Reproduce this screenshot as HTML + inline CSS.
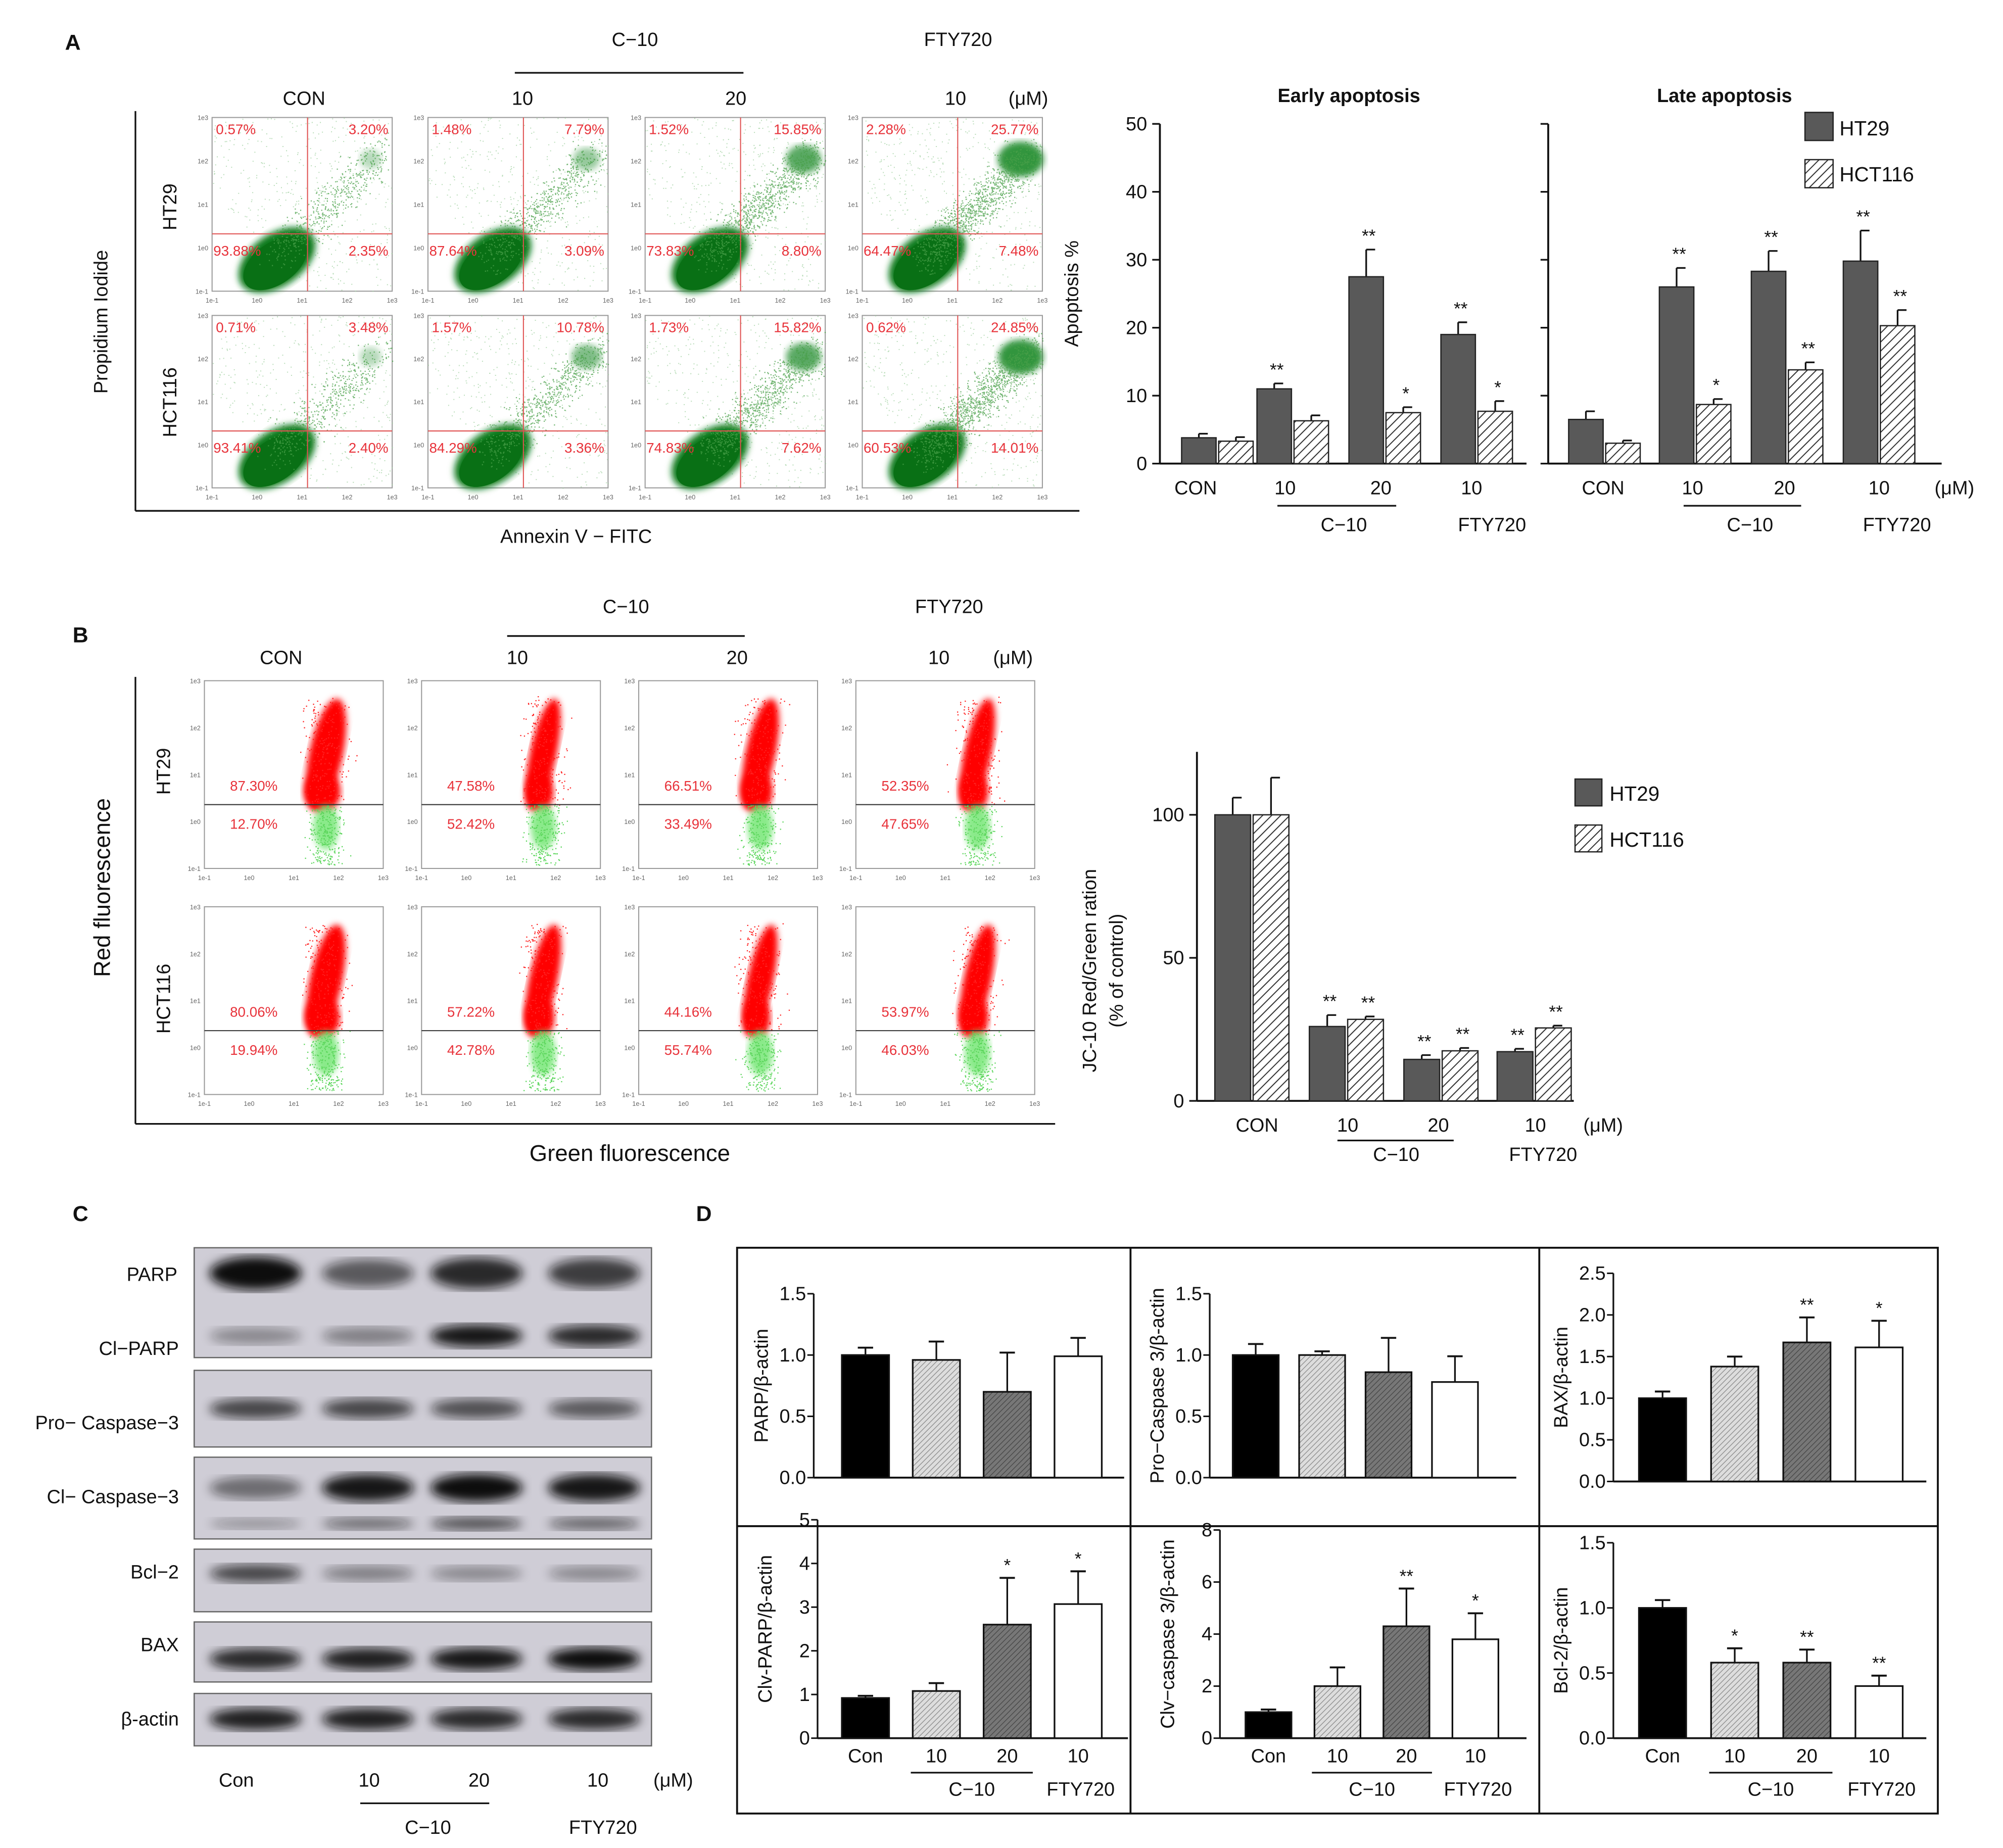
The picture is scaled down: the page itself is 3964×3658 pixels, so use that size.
<!DOCTYPE html>
<html><head><meta charset="utf-8"><style>
html,body{margin:0;padding:0;background:#fff}
svg{display:block}
text{font-family:"Liberation Sans",sans-serif}
</style></head><body>
<svg id="fig" xmlns="http://www.w3.org/2000/svg" width="3964" height="3658" viewBox="0 0 1568 1447">
<defs>
<pattern id="hatchA" patternUnits="userSpaceOnUse" width="5" height="5" patternTransform="rotate(45)"><rect width="5" height="5" fill="#fff"/><line x1="0" y1="0" x2="0" y2="5" stroke="#333" stroke-width="1.6"/></pattern>
<pattern id="hatchL" patternUnits="userSpaceOnUse" width="3" height="3" patternTransform="rotate(45)"><rect width="3" height="3" fill="#ddd"/><line x1="0" y1="0" x2="0" y2="3" stroke="#888" stroke-width="1"/></pattern>
<pattern id="hatchD" patternUnits="userSpaceOnUse" width="3" height="3" patternTransform="rotate(45)"><rect width="3" height="3" fill="#777"/><line x1="0" y1="0" x2="0" y2="3" stroke="#444" stroke-width="1"/></pattern>
<filter id="blur2"><feGaussianBlur stdDeviation="2.5"/></filter>
<filter id="blur4"><feGaussianBlur stdDeviation="4"/></filter>
</defs>
</svg>
<script>
// ---------- DATA ----------
const apopCats = ["CON","10","20","10"];
const earlyHT29 = [3.8, 11, 27.5, 19];
const earlyHT29Err = [0.6, 0.8, 4, 1.8];
const earlyHCT = [3.3, 6.3, 7.5, 7.7];
const earlyHCTErr = [0.6, 0.8, 0.8, 1.5];
const earlyStarsHT = ["", "**", "**", "**"];
const earlyStarsHCT = ["", "", "*", "*"];
const lateHT29 = [6.5, 26, 28.3, 29.8];
const lateHT29Err = [1.2, 2.8, 3, 4.5];
const lateHCT = [3, 8.7, 13.8, 20.3];
const lateHCTErr = [0.4, 0.8, 1.1, 2.3];
const lateStarsHT = ["", "**", "**", "**"];
const lateStarsHCT = ["", "*", "**", "**"];
const apopTicks = [0,10,20,30,40,50];

const jcHT29 = [100, 26, 14.5, 17.2];
const jcHT29Err = [6, 4, 1.5, 1];
const jcHCT = [100, 28.5, 17.5, 25.5];
const jcHCTErr = [13, 1, 1, 0.8];
const jcStarsHT = ["", "**", "**", "**"];
const jcStarsHCT = ["", "**", "**", "**"];
const jcTicks = [0,50,100];

const annexHT = [["0.57%","3.20%","93.88%","2.35%"],["1.48%","7.79%","87.64%","3.09%"],["1.52%","15.85%","73.83%","8.80%"],["2.28%","25.77%","64.47%","7.48%"]];
const annexHCT = [["0.71%","3.48%","93.41%","2.40%"],["1.57%","10.78%","84.29%","3.36%"],["1.73%","15.82%","74.83%","7.62%"],["0.62%","24.85%","60.53%","14.01%"]];
const jcFlowHT = [["87.30%","12.70%"],["47.58%","52.42%"],["66.51%","33.49%"],["52.35%","47.65%"]];
const jcFlowHCT = [["80.06%","19.94%"],["57.22%","42.78%"],["44.16%","55.74%"],["53.97%","46.03%"]];

const dParp = [1.0, 0.96, 0.7, 0.99];
const dParpErr = [0.06, 0.15, 0.32, 0.15];
const dPro = [1.0, 1.0, 0.86, 0.78];
const dProErr = [0.09, 0.03, 0.28, 0.21];
const dBax = [1.0, 1.38, 1.67, 1.61];
const dBaxErr = [0.08, 0.12, 0.3, 0.32];
const dBaxStars = ["", "", "**", "*"];
const dClvParp = [0.92, 1.08, 2.6, 3.07];
const dClvParpErr = [0.05, 0.18, 1.07, 0.75];
const dClvParpStars = ["", "", "*", "*"];
const dClvCasp = [1.0, 2.0, 4.3, 3.8];
const dClvCaspErr = [0.1, 0.72, 1.45, 1.0];
const dClvCaspStars = ["", "", "**", "*"];
const dBcl = [1.0, 0.58, 0.58, 0.4];
const dBclErr = [0.06, 0.11, 0.1, 0.08];
const dBclStars = ["", "*", "**", "**"];
const ticks15 = ["0.0","0.5","1.0","1.5"];
const ticks25 = ["0.0","0.5","1.0","1.5","2.0","2.5"];
const ticks5 = ["0","1","2","3","4","5"];
const ticks8 = ["0","2","4","6","8"];

// ---------- HELPERS ----------
const NS="http://www.w3.org/2000/svg";
const svg=document.getElementById('fig');
function mk(tag, attrs, name, parent){
  const e=document.createElementNS(NS,tag);
  for(const k in attrs) e.setAttribute(k, attrs[k]);
  
  
  (parent||svg).appendChild(e);
  return e;
}
function txt(x,y,s,size,name,opt){
  opt=opt||{};
  const a={x:x,y:y,'font-size':size,fill:opt.fill||'#111','text-anchor':opt.anchor||'middle'};
  if(opt.bold) a['font-weight']='bold';
  if(opt.rot!==undefined) a.transform='rotate('+opt.rot+' '+x+' '+y+')';
  const t=mk('text',a,name,opt.parent);
  t.textContent=s;
  return t;
}
function line(x1,y1,x2,y2,name,w,col,parent){
  return mk('line',{x1:x1,y1:y1,x2:x2,y2:y2,stroke:col||'#111','stroke-width':w||1.3},name,parent);
}
let seed=12345;
function rnd(){seed=(seed*1103515245+12345)%2147483648;return seed/2147483648;}
function gauss(){return (rnd()+rnd()+rnd()-1.5)/1.5;}

// ---------- PANEL A ----------
txt(57,39,"A",17,"panel-a-label",{bold:true});
txt(497,36,"C−10",15,"a-c10-header");
line(403,57,582,57,"a-c10-bracket");
txt(750,36,"FTY720",15,"a-fty-header");
txt(238,82,"CON",15,"a-con-header");
txt(409,82,"10",15,"a-10-header");
txt(576,82,"20",15,"a-20-header");
txt(748,82,"10",15,"a-fty10-header");
txt(805,82,"(μM)",15,"a-unit-header");
line(106,87,106,400,"a-frame-left");
line(106,400,845,400,"a-frame-bottom");
txt(84,252,"Propidium Iodide",15,"a-y-title",{rot:-90});
txt(138,162,"HT29",15,"a-row-ht29",{rot:-90});
txt(138,315,"HCT116",15,"a-row-hct116",{rot:-90});
txt(451,425,"Annexin V − FITC",15,"a-x-title");

const flowCols=[166,335,505,675];
function flowAxes(x0,y0,w,h,g){
  mk('rect',{x:x0,y:y0,width:w,height:h,fill:'#fff',stroke:'#999','stroke-width':0.8},'flow-plot-frame',g);
  const lbl=["1e-1","1e0","1e1","1e2","1e3"];
  for(let i=0;i<5;i++){
    txt(x0+i*w/4,y0+h+9,lbl[i],5,'flow-x-tick',{fill:'#666',parent:g});
    txt(x0-3,y0+h-i*h/4+2,lbl[i],5,'flow-y-tick',{fill:'#666',anchor:'end',parent:g});
  }
}
function annexPlot(x0,y0,w,h,vals,k,name){
  const g=mk('g',{},name);
  flowAxes(x0,y0,w,h,g);
  const qx=x0+w*0.53, qy=y0+h*0.67;
  const apop=parseFloat(vals[1])+parseFloat(vals[3]);
  let d0='';
  for(let i=0;i<500;i++){
    const px=x0+rnd()*w, py=y0+rnd()*h;
    if(px-x0+(y0+h-py)*w/h < w*0.55) continue;
    d0+='M'+px.toFixed(1)+' '+py.toFixed(1)+'h0.8v0.8h-0.8z';
  }
  mk('path',{d:d0,fill:'#9ccf9c',opacity:0.7},'background-events',g);
  mk('ellipse',{cx:x0+w*0.36,cy:y0+h*0.82,rx:w*0.24,ry:h*0.15,fill:'#0b7a1a',filter:'url(#blur2)',transform:'rotate(-35 '+(x0+w*0.36)+' '+(y0+h*0.82)+')'},'live-cell-cluster',g);
  mk('ellipse',{cx:x0+w*0.35,cy:y0+h*0.84,rx:w*0.2,ry:h*0.12,fill:'#097015',transform:'rotate(-35 '+(x0+w*0.35)+' '+(y0+h*0.84)+')'},'live-cell-core',g);
  const uc=parseFloat(vals[1]);
  mk('ellipse',{cx:x0+w*0.88,cy:y0+h*0.24,rx:w*(0.05+uc*0.003),ry:h*(0.05+uc*0.002),fill:'#1a8a2a',opacity:Math.min(0.9,0.2+uc/30),filter:'url(#blur2)'},'late-apoptotic-cluster',g);
  let d='';
  const n=Math.round(400+apop*25);
  for(let i=0;i<n;i++){
    const t=rnd();
    let px=x0+w*(0.35+t*0.6)+gauss()*w*0.16;
    let py=y0+h*(0.8-t*0.6)+gauss()*h*0.16;
    if(px<x0||px>x0+w||py<y0||py>y0+h) continue;
    d+='M'+px.toFixed(1)+' '+py.toFixed(1)+'h0.9v0.9h-0.9z';
  }
  mk('path',{d:d,fill:'#4aa04a',opacity:0.75},'scatter-events',g);
  line(qx,y0,qx,y0+h,'quadrant-vertical',0.8,'#e05050',g);
  line(x0,qy,x0+w,qy,'quadrant-horizontal',0.8,'#e05050',g);
  const red='#e8323a';
  txt(x0+3,y0+13,vals[0],11,'pct-upper-left',{fill:red,anchor:'start',parent:g});
  txt(x0+w-3,y0+13,vals[1],11,'pct-upper-right',{fill:red,anchor:'end',parent:g});
  txt(x0+1,qy+17,vals[2],11,'pct-lower-left',{fill:red,anchor:'start',parent:g});
  txt(x0+w-3,qy+17,vals[3],11,'pct-lower-right',{fill:red,anchor:'end',parent:g});
}
for(let i=0;i<4;i++){
  annexPlot(flowCols[i],92,141,136,annexHT[i],i,'annexin-plot-ht29-'+i);
  annexPlot(flowCols[i],247,141,135,annexHCT[i],i,'annexin-plot-hct116-'+i);
}

function groupBars(cfg){
  const g=mk('g',{},cfg.name);
  const y=v=>cfg.yBot-(v/cfg.max)*(cfg.yBot-cfg.yTop);
  line(cfg.ax,cfg.yTop,cfg.ax,cfg.yBot,cfg.name+'-y-axis',1.5,'#111',g);
  line(cfg.ax,cfg.yBot,cfg.axEnd,cfg.yBot,cfg.name+'-x-axis',1.5,'#111',g);
  cfg.ticks.forEach(t=>{
    line(cfg.ax-6,y(t),cfg.ax,y(t),'y-tick',1.3,'#111',g);
    if(cfg.tickLabels) txt(cfg.ax-10,y(t)+5,String(t),15,'y-tick-label',{anchor:'end',parent:g});
  });
  for(let i=0;i<cfg.centers.length;i++){
    const c=cfg.centers[i];
    [[cfg.a,cfg.aErr,cfg.aStars,'#595959',c-cfg.bw-1],[cfg.b,cfg.bErr,cfg.bStars,'url(#hatchA)',c+1]].forEach((s,j)=>{
      const v=s[0][i], e=s[1][i], x=s[4];
      line(x+cfg.bw/2,y(v),x+cfg.bw/2,y(v+e),'error-bar',1.3,'#111',g);
      line(x+cfg.bw/2,y(v+e),x+cfg.bw/2+7,y(v+e),'error-cap',1.3,'#111',g);
      mk('rect',{x:x,y:y(v),width:cfg.bw,height:cfg.yBot-y(v),fill:s[3],stroke:'#222','stroke-width':1},j?'bar-hct116':'bar-ht29',g);
      if(s[2][i]) txt(x+cfg.bw/2+2,y(v+e)-6,s[2][i],14,'significance-stars',{parent:g});
    });
  }
}
groupBars({name:'early-apoptosis-chart',ax:908,axEnd:1195,yTop:97,yBot:363,max:50,ticks:apopTicks,tickLabels:true,centers:[953,1012,1084,1156],bw:27,a:earlyHT29,aErr:earlyHT29Err,aStars:earlyStarsHT,b:earlyHCT,bErr:earlyHCTErr,bStars:earlyStarsHCT});
groupBars({name:'late-apoptosis-chart',ax:1212,axEnd:1520,yTop:97,yBot:363,max:50,ticks:apopTicks,tickLabels:false,centers:[1256,1327,1399,1471],bw:27,a:lateHT29,aErr:lateHT29Err,aStars:lateStarsHT,b:lateHCT,bErr:lateHCTErr,bStars:lateStarsHCT});
txt(844,230,"Apoptosis %",15,"apoptosis-y-title",{rot:-90});
txt(1056,80,"Early apoptosis",15,"early-apoptosis-title",{bold:true});
txt(1350,80,"Late apoptosis",15,"late-apoptosis-title",{bold:true});
mk('rect',{x:1413,y:88,width:22,height:22,fill:'#595959',stroke:'#222'},'legend-ht29-swatch');
txt(1440,106,"HT29",16,"legend-ht29-label",{anchor:'start'});
mk('rect',{x:1413,y:125,width:22,height:22,fill:'url(#hatchA)',stroke:'#222'},'legend-hct116-swatch');
txt(1440,142,"HCT116",16,"legend-hct116-label",{anchor:'start'});
[[936,"CON"],[1006,"10"],[1081,"20"],[1152,"10"],[1255,"CON"],[1325,"10"],[1397,"20"],[1471,"10"],[1530,"(μM)"]].forEach(p=>txt(p[0],387,p[1],15,'apoptosis-x-label'));
line(1000,396,1093,396,'early-c10-bracket');
line(1318,396,1410,396,'late-c10-bracket');
txt(1052,416,"C−10",15,"early-c10-label");
txt(1168,416,"FTY720",15,"early-fty-label");
txt(1370,416,"C−10",15,"late-c10-label");
txt(1485,416,"FTY720",15,"late-fty-label");

// ---------- PANEL B ----------
txt(63,503,"B",17,"panel-b-label",{bold:true});
txt(490,480,"C−10",15,"b-c10-header");
line(397,498,583,498,"b-c10-bracket");
txt(743,480,"FTY720",15,"b-fty-header");
txt(220,520,"CON",15,"b-con-header");
txt(405,520,"10",15,"b-10-header");
txt(577,520,"20",15,"b-20-header");
txt(735,520,"10",15,"b-fty10-header");
txt(793,520,"(μM)",15,"b-unit-header");
line(106,530,106,880,"b-frame-left");
line(106,880,826,880,"b-frame-bottom");
txt(86,695,"Red fluorescence",18,"b-y-title",{rot:-90});
txt(133,604,"HT29",15,"b-row-ht29",{rot:-90});
txt(133,782,"HCT116",15,"b-row-hct116",{rot:-90});
txt(493,909,"Green fluorescence",18,"b-x-title");
const jcCols=[160,330,500,670];
function jcPlot(x0,y0,w,h,vals,name){
  const g=mk('g',{},name);
  flowAxes(x0,y0,w,h,g);
  const qy=y0+h*0.66;
  const rf=parseFloat(vals[0])/100;
  const cx=x0+w*0.68;
  mk('ellipse',{cx:cx,cy:qy-h*0.27,rx:w*(0.05+rf*0.05),ry:h*0.3,fill:'#f00',filter:'url(#blur2)',transform:'rotate(12 '+cx+' '+(qy-h*0.27)+')'},'red-population',g);
  mk('ellipse',{cx:cx-3,cy:qy-h*0.07,rx:w*(0.05+rf*0.06),ry:h*0.11,fill:'#f00',filter:'url(#blur2)'},'red-population-base',g);
  mk('ellipse',{cx:cx,cy:qy+h*0.12,rx:w*0.07,ry:h*0.12,fill:'#7ee87e',filter:'url(#blur2)',opacity:0.9},'green-population',g);
  let d='',d2='';
  for(let i=0;i<260;i++){
    const px=cx+gauss()*w*0.18, py=y0+h*(0.1+rnd()*0.56)+gauss()*4;
    if(px>x0&&px<x0+w&&py>y0&&py<qy) d+='M'+px.toFixed(1)+' '+py.toFixed(1)+'h0.9v0.9h-0.9z';
    const gx=cx+gauss()*w*0.15, gy=qy+rnd()*h*0.32;
    if(gx>x0&&gx<x0+w&&gy<y0+h) d2+='M'+gx.toFixed(1)+' '+gy.toFixed(1)+'h0.9v0.9h-0.9z';
  }
  mk('path',{d:d,fill:'#f22'},'red-events',g);
  mk('path',{d:d2,fill:'#5cd65c'},'green-events',g);
  line(x0,qy,x0+w,qy,'gate-line',0.8,'#333',g);
  txt(x0+20,qy-11,vals[0],11,'pct-red',{fill:'#e8323a',anchor:'start',parent:g});
  txt(x0+20,qy+19,vals[1],11,'pct-green',{fill:'#e8323a',anchor:'start',parent:g});
}
for(let i=0;i<4;i++){
  jcPlot(jcCols[i],533,140,147,jcFlowHT[i],'jc10-plot-ht29-'+i);
  jcPlot(jcCols[i],710,140,147,jcFlowHCT[i],'jc10-plot-hct116-'+i);
}
groupBars({name:'jc10-ratio-chart',ax:937,axEnd:1232,yTop:638-(862-638)/100*22,yBot:862,max:122,ticks:jcTicks,tickLabels:true,centers:[980,1054,1128,1201],bw:28,a:jcHT29,aErr:jcHT29Err,aStars:jcStarsHT,b:jcHCT,bErr:jcHCTErr,bStars:jcStarsHCT});
txt(858,760,"JC-10 Red/Green ration",15,"jc10-y-title",{rot:-90});
txt(879,760,"(% of control)",15,"jc10-y-subtitle",{rot:-90});
mk('rect',{x:1233,y:610,width:21,height:21,fill:'#595959',stroke:'#222'},'legend-b-ht29-swatch');
txt(1260,627,"HT29",16,"legend-b-ht29-label",{anchor:'start'});
mk('rect',{x:1233,y:646,width:21,height:21,fill:'url(#hatchA)',stroke:'#222'},'legend-b-hct116-swatch');
txt(1260,663,"HCT116",16,"legend-b-hct116-label",{anchor:'start'});
[[984,"CON"],[1055,"10"],[1126,"20"],[1202,"10"],[1255,"(μM)"]].forEach(p=>txt(p[0],886,p[1],15,'jc10-x-label'));
line(1047,893,1138,893,'jc10-c10-bracket');
txt(1093,909,"C−10",15,"jc10-c10-label");
txt(1208,909,"FTY720",15,"jc10-fty-label");

// ---------- PANEL C ----------
txt(63,956,"C",17,"panel-c-label",{bold:true});
const lanes=[200,288,373,465];
const strips=[
 {name:'parp-blot',y:977,h:86,bands:[[997,[1,0.6,0.85,0.75],13],[1046,[0.35,0.4,0.95,0.85],9]]},
 {name:'pro-caspase3-blot',y:1073,h:60,bands:[[1103,[0.7,0.7,0.65,0.6],9]]},
 {name:'cl-caspase3-blot',y:1141,h:64,bands:[[1165,[0.5,0.95,1,0.95],11],[1193,[0.3,0.5,0.65,0.55],6]]},
 {name:'bcl2-blot',y:1213,h:49,bands:[[1232,[0.7,0.4,0.35,0.35],8]]},
 {name:'bax-blot',y:1270,h:47,bands:[[1299,[0.85,0.9,0.95,1],9]]},
 {name:'beta-actin-blot',y:1326,h:41,bands:[[1346,[0.9,0.9,0.85,0.85],9]]}
];
strips.forEach(s=>{
  const g=mk('g',{},s.name);
  mk('rect',{x:152,y:s.y,width:358,height:s.h,fill:'#cfcdd6',stroke:'#666','stroke-width':1},'blot-strip',g);
  s.bands.forEach(b=>{
    lanes.forEach((lx,i)=>{
      const k=b[1][i];
      mk('ellipse',{cx:lx,cy:b[0],rx:36,ry:b[2]*(0.6+0.4*k),fill:'#111',opacity:k,filter:'url(#blur4)'},'protein-band',g);
    });
  });
});
[[119,1003,"PARP"],[140,1061,"Cl−PARP"],[140,1119,"Pro− Caspase−3"],[140,1177,"Cl− Caspase−3"],[140,1236,"Bcl−2"],[140,1293,"BAX"],[140,1351,"β-actin"]].forEach(p=>txt(p[0],p[1],p[2],15,'blot-row-label',{anchor:p[0]===119?'middle':'end'}));
[[185,"Con"],[289,"10"],[375,"20"],[468,"10"],[527,"(μM)"]].forEach(p=>txt(p[0],1399,p[1],15,'blot-lane-label'));
line(282,1412,383,1412,'blot-c10-bracket');
txt(335,1436,"C−10",15,"blot-c10-label");
txt(472,1436,"FTY720",15,"blot-fty-label");

// ---------- PANEL D ----------
txt(551,956,"D",17,"panel-d-label",{bold:true});
mk('rect',{x:577,y:977,width:940,height:443,fill:'none',stroke:'#111','stroke-width':1.5},'panel-d-frame');
line(885,977,885,1420,'panel-d-divider-1',1.5);
line(1205,977,1205,1420,'panel-d-divider-2',1.5);
line(577,1195,1517,1195,'panel-d-divider-h',1.5);
const dFills=['#000','url(#hatchL)','url(#hatchD)','#fff'];
function dChart(cfg){
  const g=mk('g',{},cfg.name);
  const y=v=>cfg.yBot-(v/cfg.max)*(cfg.yBot-cfg.yTop);
  line(cfg.ax,cfg.yTop,cfg.ax,cfg.yBot,'y-axis',1.3,'#111',g);
  line(cfg.ax,cfg.yBot,cfg.ax+cfg.len,cfg.yBot,'x-axis',1.5,'#111',g);
  cfg.ticks.forEach(t=>{
    const v=parseFloat(t);
    line(cfg.ax-5,y(v),cfg.ax,y(v),'y-tick',1.2,'#111',g);
    txt(cfg.ax-6,y(v)+5,t,15,'y-tick-label',{anchor:'end',parent:g});
  });
  cfg.vals.forEach((v,i)=>{
    const x=cfg.x0+i*cfg.step, e=cfg.err[i];
    line(x+cfg.bw/2,y(v),x+cfg.bw/2,y(v+e),'error-bar',1.3,'#111',g);
    line(x+cfg.bw/2-6,y(v+e),x+cfg.bw/2+6,y(v+e),'error-cap',1.5,'#111',g);
    mk('rect',{x:x,y:y(v),width:cfg.bw,height:cfg.yBot-y(v),fill:dFills[i],stroke:'#111','stroke-width':1.3},'bar-'+i,g);
    if(cfg.stars&&cfg.stars[i]) txt(x+cfg.bw/2,y(v+e)-5,cfg.stars[i],14,'significance-stars',{parent:g});
  });
  txt(cfg.ax-36,(cfg.yTop+cfg.yBot)/2,cfg.title,15,'y-axis-title',{rot:-90,parent:g});
  if(cfg.xl){
    const c=i=>cfg.x0+i*cfg.step+cfg.bw/2;
    [["Con",0],["10",1],["20",2],["10",3]].forEach(p=>txt(c(p[1]),cfg.yBot+19,p[0],15,'x-label',{parent:g}));
    line(c(1)-20,cfg.yBot+27,c(2)+20,cfg.yBot+27,'c10-bracket',1.3,'#111',g);
    txt((c(1)+c(2))/2,cfg.yBot+45,"C−10",15,'c10-label',{parent:g});
    txt(c(3)+2,cfg.yBot+45,"FTY720",15,'fty-label',{parent:g});
  }
}
dChart({name:'parp-ratio-chart',ax:637,len:243,yTop:1013,yBot:1157,max:1.5,ticks:ticks15,x0:659,step:55.5,bw:37,vals:dParp,err:dParpErr,title:"PARP/β-actin"});
dChart({name:'pro-caspase3-ratio-chart',ax:947,len:240,yTop:1013,yBot:1157,max:1.5,ticks:ticks15,x0:965,step:52,bw:36,vals:dPro,err:dProErr,title:"Pro−Caspase 3/β-actin"});
dChart({name:'bax-ratio-chart',ax:1263,len:245,yTop:997,yBot:1160,max:2.5,ticks:ticks25,x0:1283,step:56.5,bw:37,vals:dBax,err:dBaxErr,stars:dBaxStars,title:"BAX/β-actin"});
dChart({name:'clv-parp-ratio-chart',ax:640,len:243,yTop:1190,yBot:1361,max:5,ticks:ticks5,x0:659,step:55.5,bw:37,vals:dClvParp,err:dClvParpErr,stars:dClvParpStars,title:"Clv-PARP/β-actin",xl:true});
dChart({name:'clv-caspase3-ratio-chart',ax:955,len:240,yTop:1198,yBot:1361,max:8,ticks:ticks8,x0:975,step:54,bw:36,vals:dClvCasp,err:dClvCaspErr,stars:dClvCaspStars,title:"Clv−caspase 3/β-actin",xl:true});
dChart({name:'bcl2-ratio-chart',ax:1263,len:245,yTop:1208,yBot:1361,max:1.5,ticks:ticks15,x0:1283,step:56.5,bw:37,vals:dBcl,err:dBclErr,stars:dBclStars,title:"Bcl-2/β-actin",xl:true});
</script>
</body></html>
